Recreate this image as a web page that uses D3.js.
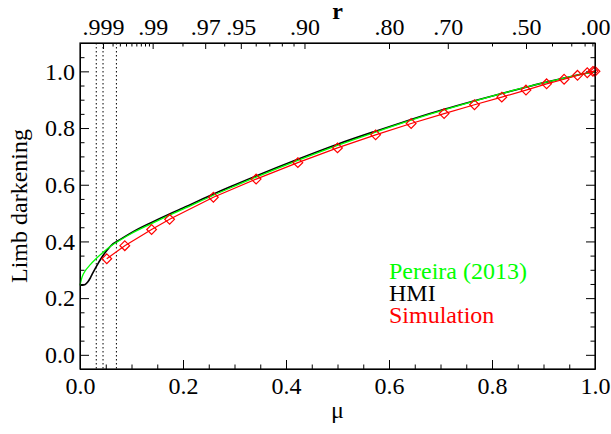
<!DOCTYPE html>
<html>
<head>
<meta charset="utf-8">
<script src="https://cdn.jsdelivr.net/npm/d3@7"></script>
<style>
  body { margin: 0; background: #fff; }
  svg text { font-family: "Liberation Serif", "Times New Roman", serif; }
  .axis path, .axis line { stroke: #000; }
</style>
</head>
<body>
<div id="chart"></div>
<script>
// Pereira (2013) limb darkening curve
const pereiraMu = [0, 0.003, 0.006, 0.01, 0.02, 0.03, 0.045, 0.06, 0.08, 0.1, 0.139, 0.174, 0.2, 0.259, 0.3, 0.342, 0.423, 0.5, 0.574, 0.643, 0.707, 0.766, 0.819, 0.866, 0.906, 0.94, 0.966, 0.985, 1.0];
const pereiraI  = [0.245, 0.268, 0.283, 0.296, 0.318, 0.337, 0.362, 0.384, 0.407, 0.428, 0.463, 0.493, 0.514, 0.563, 0.595, 0.627, 0.686, 0.739, 0.786, 0.828, 0.864, 0.895, 0.922, 0.944, 0.962, 0.976, 0.987, 0.994, 1.0];

// HMI limb darkening curve
const hmiMu = [0, 0.005, 0.01, 0.015, 0.02, 0.025, 0.03, 0.035, 0.04, 0.045, 0.052, 0.06, 0.08, 0.1, 0.139, 0.174, 0.2, 0.259, 0.3, 0.342, 0.423, 0.5, 0.574, 0.643, 0.707, 0.766, 0.819, 0.866, 0.906, 0.94, 0.966, 0.985, 1.0];
const hmiI  = [0.246, 0.246, 0.248, 0.257, 0.271, 0.289, 0.306, 0.322, 0.337, 0.351, 0.368, 0.385, 0.409, 0.431, 0.467, 0.497, 0.518, 0.567, 0.599, 0.631, 0.69, 0.743, 0.789, 0.83, 0.866, 0.896, 0.922, 0.944, 0.962, 0.976, 0.987, 0.994, 1.0];

// Simulation points
const simMu = [0.052, 0.087, 0.139, 0.174, 0.259, 0.342, 0.423, 0.5, 0.574, 0.643, 0.707, 0.766, 0.819, 0.866, 0.906, 0.94, 0.966, 0.985, 0.996, 1.0];
const simI  = [0.339, 0.385, 0.442, 0.478, 0.556, 0.62, 0.678, 0.73, 0.776, 0.816, 0.851, 0.882, 0.909, 0.934, 0.956, 0.972, 0.986, 0.995, 1.0, 1.0];

// dotted vertical markers (mu)
const markerMu = [0.0316, 0.0447, 0.0707];

// axis ticks
const xMajor = [0, 0.2, 0.4, 0.6, 0.8, 1.0];
const xMinor = d3.range(0.05, 1.0, 0.05);
const yMajor = [0, 0.2, 0.4, 0.6, 0.8, 1.0];
const yMinor = [-0.05, 0.05, 0.1, 0.15, 0.25, 0.3, 0.35, 0.45, 0.5, 0.55, 0.65, 0.7, 0.75, 0.85, 0.9, 0.95, 1.05];
const rMajor = [0.999, 0.99, 0.97, 0.95, 0.90, 0.80, 0.70, 0.50, 0.00];
const rLabels = [".999", ".99", ".97", ".95", ".90", ".80", ".70", ".50", ".00"];
const rMinor = [0.998, 0.997, 0.996, 0.995, 0.994, 0.993, 0.992, 0.991, 0.98, 0.96, 0.94, 0.93, 0.92, 0.91, 0.60, 0.40, 0.30, 0.20, 0.10];

// legend
const legendLabels = ["Pereira (2013)", "HMI", "Simulation"];
const legendColors = ["#00ff00", "#000000", "#ff0000"];

const width = 611, height = 434;
const margin = {top: 43, right: 16, bottom: 65, left: 80};
const innerWidth = width - margin.left - margin.right;
const innerHeight = height - margin.top - margin.bottom;

const svg = d3.select("#chart").append("svg")
    .attr("width", width)
    .attr("height", height);

const chart = svg.append("g")
    .attr("transform", `translate(${margin.left}, ${margin.top})`);

const xScale = d3.scaleLinear().domain([0, 1]).range([0, innerWidth]);
const yScale = d3.scaleLinear().domain([-0.05, 1.1]).range([innerHeight, 0]);
const rToMu = r => Math.sqrt(1 - r * r);

const fontSize = 24;

// dotted lines
chart.selectAll("line.marker")
    .data(markerMu)
    .join("line")
    .attr("class", "marker")
    .attr("x1", d => xScale(d)).attr("x2", d => xScale(d))
    .attr("y1", 0).attr("y2", innerHeight)
    .attr("stroke", "#000")
    .attr("stroke-width", 1)
    .attr("stroke-dasharray", "1.5,2.5");

// bottom axis (ticks point inward)
chart.append("g").attr("class", "axis")
    .attr("transform", `translate(0, ${innerHeight})`)
    .call(d3.axisBottom(xScale).tickValues(xMajor).tickFormat(d3.format(".1f")).tickSizeInner(-9).tickSizeOuter(0).tickPadding(8));
chart.append("g").attr("class", "axis")
    .attr("transform", `translate(0, ${innerHeight})`)
    .call(d3.axisBottom(xScale).tickValues(xMinor).tickFormat("").tickSizeInner(-4.5).tickSizeOuter(0))
    .select(".domain").remove();

// left axis
chart.append("g").attr("class", "axis")
    .call(d3.axisLeft(yScale).tickValues(yMajor).tickFormat(d3.format(".1f")).tickSizeInner(-9).tickSizeOuter(0).tickPadding(5));
chart.append("g").attr("class", "axis")
    .call(d3.axisLeft(yScale).tickValues(yMinor).tickFormat("").tickSizeInner(-4.5).tickSizeOuter(0))
    .select(".domain").remove();

// right axis (mirror, no labels)
chart.append("g").attr("class", "axis")
    .attr("transform", `translate(${innerWidth}, 0)`)
    .call(d3.axisRight(yScale).tickValues(yMajor).tickFormat("").tickSizeInner(-9).tickSizeOuter(0));
chart.append("g").attr("class", "axis")
    .attr("transform", `translate(${innerWidth}, 0)`)
    .call(d3.axisRight(yScale).tickValues(yMinor).tickFormat("").tickSizeInner(-4.5).tickSizeOuter(0))
    .select(".domain").remove();

// top axis in r = sqrt(1 - mu^2)
chart.append("g").attr("class", "axis")
    .call(d3.axisTop(xScale).tickValues(rMajor.map(rToMu))
        .tickFormat((d, i) => rLabels[i]).tickSizeInner(-6).tickSizeOuter(0).tickPadding(8));
chart.append("g").attr("class", "axis")
    .call(d3.axisTop(xScale).tickValues(rMinor.map(rToMu)).tickFormat("").tickSizeInner(-3.5).tickSizeOuter(0))
    .select(".domain").remove();

chart.selectAll(".axis text")
    .attr("font-size", fontSize)
    .attr("fill", "#000");

// curves
const line = d3.line()
    .curve(d3.curveMonotoneX)
    .x(d => xScale(d[0]))
    .y(d => yScale(d[1]));

chart.append("path")
    .datum(d3.zip(hmiMu, hmiI))
    .attr("d", line)
    .attr("fill", "none")
    .attr("stroke", "#000")
    .attr("stroke-width", 1.6);

chart.append("path")
    .datum(d3.zip(pereiraMu, pereiraI))
    .attr("d", line)
    .attr("fill", "none")
    .attr("stroke", "#00ff00")
    .attr("stroke-width", 1.3);

const simData = d3.zip(simMu, simI);
chart.append("path")
    .datum(simData)
    .attr("d", d3.line().x(d => xScale(d[0])).y(d => yScale(d[1])))
    .attr("fill", "none")
    .attr("stroke", "#ff0000")
    .attr("stroke-width", 1.2);

chart.selectAll("path.diamond")
    .data(simData)
    .join("path")
    .attr("class", "diamond")
    .attr("d", d3.symbol(d3.symbolDiamond2, 60))
    .attr("transform", d => `translate(${xScale(d[0])}, ${yScale(d[1])})`)
    .attr("fill", "none")
    .attr("stroke", "#ff0000")
    .attr("stroke-width", 1.2);

// frame on top
chart.append("rect")
    .attr("width", innerWidth).attr("height", innerHeight)
    .attr("fill", "none").attr("stroke", "#000").attr("stroke-width", 1.2);

// legend
svg.selectAll("text.legend")
    .data(legendLabels)
    .join("text")
    .attr("class", "legend")
    .attr("x", 389)
    .attr("y", (d, i) => 279 + i * 22)
    .attr("font-size", fontSize)
    .attr("fill", (d, i) => legendColors[i])
    .text(d => d);

// axis titles
svg.append("text")
    .attr("x", margin.left + innerWidth / 2)
    .attr("y", 418)
    .attr("text-anchor", "middle")
    .attr("font-size", fontSize)
    .text("μ");

svg.append("text")
    .attr("x", margin.left + innerWidth / 2)
    .attr("y", 19)
    .attr("text-anchor", "middle")
    .attr("font-size", fontSize)
    .attr("font-weight", "bold")
    .text("r");

svg.append("text")
    .attr("transform", `translate(27, ${margin.top + innerHeight / 2}) rotate(-90)`)
    .attr("text-anchor", "middle")
    .attr("font-size", fontSize)
    .text("Limb darkening");
</script>
</body>
</html>
